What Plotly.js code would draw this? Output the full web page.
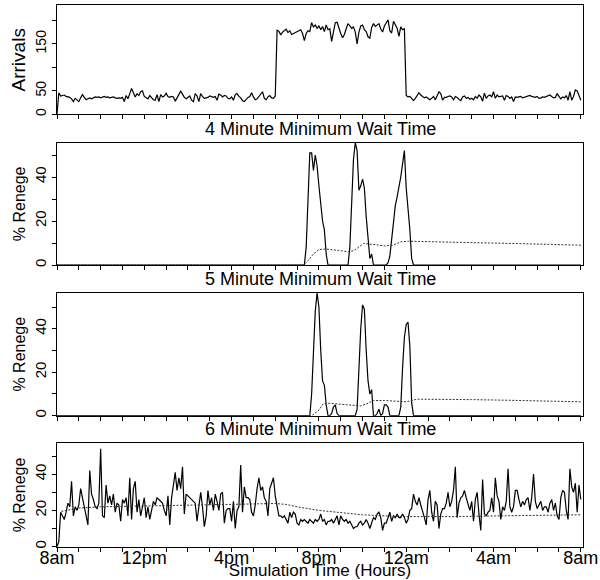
<!DOCTYPE html>
<html>
<head>
<meta charset="utf-8">
<script src="https://cdn.plot.ly/plotly-3.0.1.min.js"></script>
<style>html,body{margin:0;padding:0;background:#fff;}#chart{width:600px;height:580px;}</style>
</head>
<body>
<div id="chart"></div>
<script>
// ---- data (5-minute steps from 8am, 289 points) ----
const arrivals = [
0,46,39,40,41,38,37,36,33,27,
34,30,27,35,42,36,31,33,35,33,
36,37,36,37,35,37,38,36,37,35,
36,37,35,34,35,34,36,27,40,33,
44,55,46,37,44,40,48,50,38,35,
33,40,35,31,30,42,27,42,37,39,
45,38,36,38,37,28,35,41,49,43,
36,33,36,39,30,27,44,39,27,44,
38,34,35,36,39,37,36,38,30,43,
41,37,40,39,34,33,37,30,42,44,
38,35,29,27,32,36,38,46,37,31,
33,38,45,48,34,31,37,40,35,34,
39,
179,177,169,175,178,181,174,178,170,172,
174,176,177,180,172,157,172,178,176,195,
186,190,183,188,180,187,176,190,180,182,
155,180,195,196,183,172,163,170,182,193,
188,183,186,175,150,175,188,190,180,176,
165,162,185,193,187,190,193,182,175,188,
195,201,178,173,198,190,183,166,186,180,182,
40,37,38,34,29,34,41,46,41,38,
35,37,33,31,34,38,31,41,48,44,
30,36,36,38,39,37,31,38,36,32,
29,37,39,34,36,32,34,31,38,34,
41,37,28,45,34,39,41,37,48,34,
41,37,38,39,30,40,38,34,37,27,37,
36,37,38,35,36,37,39,40,38,37,36,38,34,35,37,36,38,40,41,38,35,36,44,38,33,37,35,40,30,48,30,38,52,50,40,30
];

const renege6 = [
0,3,19,17,15,19,24,22,36,17,
22,20,23,32,27,20,17,12,42,29,
26,22,21,24,54,17,16,34,24,28,
23,29,19,24,23,14,26,24,27,17,
38,15,32,36,19,26,17,23,27,16,
22,15,20,25,23,27,26,25,24,20,
17,28,12,27,34,41,31,38,32,44,
18,29,28,27,26,25,24,14,24,30,
22,11,17,31,23,27,20,29,25,20,
29,30,13,20,21,21,14,25,10,20,
22,45,19,33,27,27,26,19,17,23,
32,38,31,33,27,25,17,32,35,38,
28,22,17,
17,16,17,15,13,19,16,19,18,13,
12,15,14,15,14,13,15,14,13,15,
14,15,18,14,15,12,14,14,15,13,
15,17,12,17,15,14,15,13,14,12,
10,11,11,13,14,12,13,15,13,10,
13,16,15,18,19,16,9,13,13,16,
19,14,17,16,18,16,16,18,16,13,
15,20,21,29,25,23,27,23,20,16,
12,26,31,19,14,25,23,10,18,21,
21,24,30,22,25,31,44,16,24,27,
28,31,27,23,20,25,14,26,30,18,
9,37,18,17,19,20,27,19,38,28,
25,15,22,20,25,43,22,19,22,31,
31,26,22,25,23,26,27,20,27,40,25,21,23,25,20,22,22,19,24,26,20,24,17,15,27,31,30,20,15,43,33,30,35,19,34,26
];
const avg6Hours = [0.2, 1, 2, 4, 6, 8, 10, 10.5, 11, 12, 13, 14, 15, 16, 18, 20, 22, 24];
const avg6 =      [19.5, 21.3, 22, 22.5, 23, 23.6, 23.8, 23.3, 22, 20, 18.8, 17.6, 17, 16.6, 16.6, 16.8, 17.1, 17.6];

// sparse series for 4 and 5 minute panels: step index (5-minute) and value
const renege4Step = [0,136,137,138,139,140,141,142,143,144,145,146,147,148,149,160,161,162,163,164,165,166,167,168,169,170,171,172,173,174,181,182,183,184,185,186,187,188,189,190,191,192,193,194,195,196,288];
const renege4 =     [0,0,8,35,51,51,43,50,45,36,28,20,16,5,0,0,8,30,48,55.6,52,34,36,39,35,22,12,3,5,0,0,1,4,12,18,27,31,35,40,46,52,35,26,16,3,0,0];
const avg4Hours = [0, 11.3, 11.5, 11.75, 12.0, 12.3, 12.9, 13.35, 13.6, 13.8, 14.05, 14.6, 15.0, 15.4, 15.75, 16.1, 16.8, 18.5, 20.3, 22.1, 24];
const avg4 =      [0, 0, 2, 5, 7, 7.3, 6.6, 6, 6.5, 8, 9.8, 9.2, 8.7, 9, 10.5, 10.8, 10.6, 10.2, 9.9, 9.5, 9];

const renege5Step = [0,139,140,141,142,143,144,145,146,147,148,149,150,151,152,153,154,155,164,165,166,167,168,169,170,171,172,173,174,175,176,177,178,179,180,181,182,183,188,189,190,191,192,193,194,195,196,288];
const renege5 =     [0,0,10,28,48,56.5,50,30,16,14,5,0,0,1,4,5,1,0,0,3,22,40,51,49,30,16,10,12,0,0,1,3,0,1,5,5,4,0,0,4,22,36,42,43,32,6,0,0];
const avg5Hours = [0, 11.67, 12.0, 12.2, 12.5, 13.1, 13.5, 13.9, 14.2, 14.5, 15.0, 15.5, 16.0, 16.5, 17.3, 19.0, 20.7, 22.4, 24];
const avg5 =      [0, 0, 2.6, 5.5, 5.7, 5.2, 4.8, 4.5, 5.5, 7, 7, 6.7, 6.4, 7.6, 7.6, 7.4, 7.1, 6.8, 6.4];

const hourTicks = [0,1,2,3,4,5,6,7,8,9,10,11,12,13,14,15,16,17,18,19,20,21,22,23,24];
const hourLabels = ['8am','','','','12pm','','','','4pm','','','','8pm','','','','12am','','','','4am','','','','8am'];
const arrTicks = [0,50,100,150,200];
const arrLabels = ['0','50','','150',''];
const pctTicks = [0,10,20,30,40,50];
const pctLabels = ['0','','20','','40',''];
const panelTitles = ['4 Minute Minimum Wait Time','5 Minute Minimum Wait Time','6 Minute Minimum Wait Time'];

// ---- build ----
const stepH = s => s / 12;
const tFull = arrivals.map((_, i) => stepH(i));
const solid = {color:'black', width:1.2};
const dotted = {color:'#333', width:1, dash:'2px,1.5px'};

const traces = [
  {x:tFull, y:arrivals, xaxis:'x', yaxis:'y', mode:'lines', line:solid},
  {x:renege4Step.map(stepH), y:renege4, xaxis:'x2', yaxis:'y2', mode:'lines', line:solid},
  {x:avg4Hours, y:avg4, xaxis:'x2', yaxis:'y2', mode:'lines', line:dotted},
  {x:renege5Step.map(stepH), y:renege5, xaxis:'x3', yaxis:'y3', mode:'lines', line:solid},
  {x:avg5Hours, y:avg5, xaxis:'x3', yaxis:'y3', mode:'lines', line:dotted},
  {x:tFull, y:renege6, xaxis:'x4', yaxis:'y4', mode:'lines', line:solid},
  {x:avg6Hours, y:avg6, xaxis:'x4', yaxis:'y4', mode:'lines', line:dotted}
];

const W = 600, H = 580;
const font = {family:'"Liberation Sans", Arial, Helvetica, sans-serif', color:'black'};
const base = {showline:true, linecolor:'black', linewidth:1, mirror:true, ticks:'outside', ticklen:4,
  tickcolor:'black', tickwidth:1, showgrid:false, zeroline:false, fixedrange:true};
const xdom = [57/W, 583/W];
function xax(anchor, labels){
  return Object.assign({}, base, {domain:xdom, range:[0,24.1], anchor:anchor, tickmode:'array',
    tickvals:hourTicks, ticktext:hourLabels, showticklabels:labels, tickfont:{size:18},
    ticklabelstandoff:-9});
}
function ydom(top, bottom){ return [1 - bottom/H, 1 - top/H]; }
function yax(anchor, dom, rng, tv, tt, tickSize, title, titleSize){
  return Object.assign({}, base, {domain:dom, range:rng, anchor:anchor, tickmode:'array',
    tickvals:tv, ticktext:tt, tickangle:-90, tickfont:{size:tickSize},
    title:{text:title, font:{size:titleSize}, standoff:2}});
}

const layout = {
  width:W, height:H, margin:{l:0,r:0,t:0,b:0}, paper_bgcolor:'white', plot_bgcolor:'white',
  showlegend:false, font:font,
  xaxis: xax('y', false),
  xaxis2: xax('y2', false),
  xaxis3: xax('y3', false),
  xaxis4: Object.assign(xax('y4', true), {title:{text:'Simulation Time (Hours)', font:{size:17}, standoff:0}}),
  yaxis: yax('x', ydom(5.3,114.3), [0,232], arrTicks, arrLabels, 14, 'Arrivals', 19),
  yaxis2: yax('x2', ydom(142.7,265), [0,55.6], pctTicks, pctLabels, 15, '% Renege', 16),
  yaxis3: yax('x3', ydom(292.7,415.7), [0,56.6], pctTicks, pctLabels, 15, '% Renege', 16),
  yaxis4: yax('x4', ydom(443.3,546.7), [0,57], pctTicks, pctLabels, 15, '% Renege', 16),
  annotations: [[129,0],[279,1],[429,2]].map(([py,k]) => ({
    text: panelTitles[k], xref:'paper', yref:'paper', x:(57+583)/2/W, y:1-py/H,
    xanchor:'center', yanchor:'middle', showarrow:false, font:{size:18}
  }))
};

Plotly.newPlot('chart', traces, layout, {staticPlot:true, displayModeBar:false});
</script>
</body>
</html>
